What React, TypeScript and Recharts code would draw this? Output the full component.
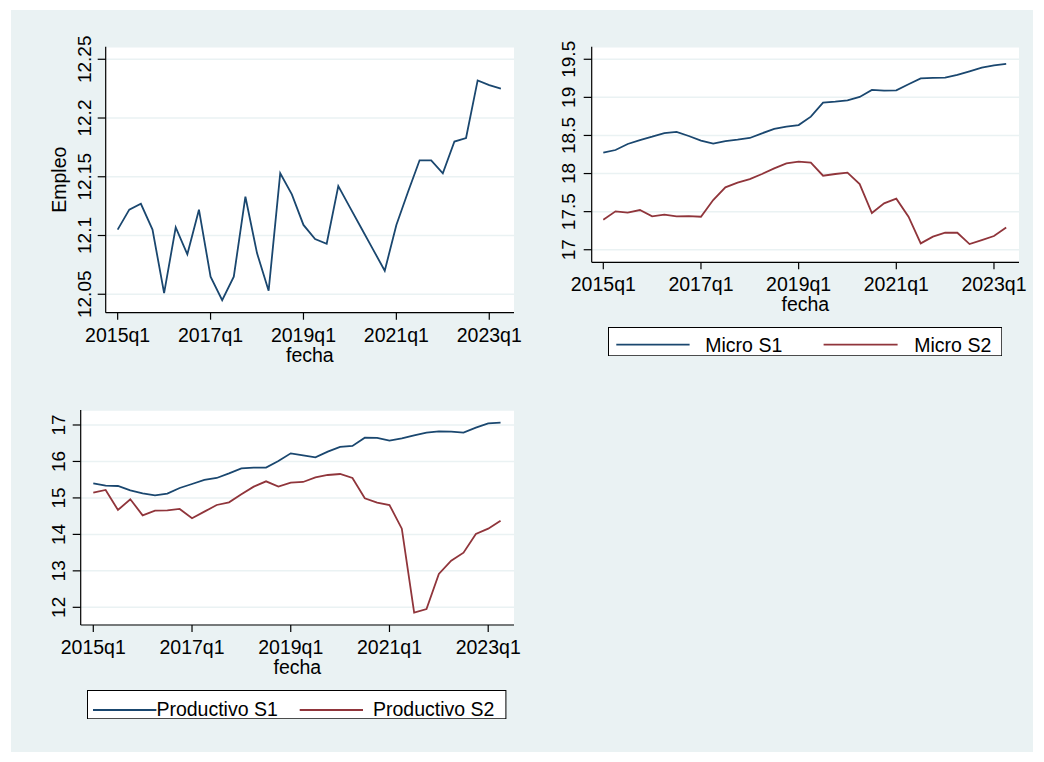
import React from 'react';
import { LineChart, Line, XAxis, YAxis, CartesianGrid, Legend } from 'recharts';

const quarters = [
  '2015q1', '2015q2', '2015q3', '2015q4',
  '2016q1', '2016q2', '2016q3', '2016q4',
  '2017q1', '2017q2', '2017q3', '2017q4',
  '2018q1', '2018q2', '2018q3', '2018q4',
  '2019q1', '2019q2', '2019q3', '2019q4',
  '2020q1', '2020q2', '2020q3', '2020q4',
  '2021q1', '2021q2', '2021q3', '2021q4',
  '2022q1', '2022q2', '2022q3', '2022q4',
  '2023q1', '2023q2',
];

const empleo = [
  12.105, 12.122, 12.127, 12.105, 12.051, 12.107, 12.084, 12.122,
  12.065, 12.045, 12.065, 12.133, 12.085, 12.053, 12.153, 12.135,
  12.109, 12.097, 12.093, 12.142, 12.124, 12.106, 12.088, 12.07,
  12.109, 12.137, 12.164, 12.164, 12.153, 12.18, 12.183, 12.232,
  12.228, 12.225,
];

const microS1 = [
  18.274, 18.309, 18.388, 18.44, 18.484, 18.532, 18.546, 18.493,
  18.432, 18.392, 18.427, 18.445, 18.467, 18.528, 18.585, 18.615,
  18.637, 18.747, 18.931, 18.944, 18.961, 19.005, 19.097, 19.088,
  19.093, 19.172, 19.25, 19.255, 19.259, 19.294, 19.342, 19.391,
  19.421, 19.439,
];

const microS2 = [
  17.394, 17.504, 17.486, 17.521, 17.438, 17.46, 17.438, 17.442,
  17.433, 17.652, 17.819, 17.88, 17.928, 17.994, 18.068, 18.134,
  18.156, 18.143, 17.972, 17.994, 18.011, 17.862, 17.482, 17.609,
  17.67, 17.433, 17.083, 17.171, 17.223, 17.223, 17.074, 17.127,
  17.18, 17.293,
];

const prodS1 = [
  15.4, 15.336, 15.327, 15.208, 15.126, 15.071, 15.117, 15.272,
  15.382, 15.492, 15.547, 15.675, 15.812, 15.83, 15.83, 16.013,
  16.223, 16.168, 16.113, 16.269, 16.397, 16.424, 16.653, 16.644,
  16.57, 16.634, 16.717, 16.79, 16.826, 16.817, 16.79, 16.927,
  17.046, 17.064,
];

const prodS2 = [
  15.144, 15.218, 14.669, 14.962, 14.523, 14.651, 14.66, 14.697,
  14.441, 14.623, 14.806, 14.879, 15.099, 15.309, 15.455, 15.309,
  15.419, 15.437, 15.565, 15.629, 15.656, 15.547, 14.989, 14.87,
  14.806, 14.157, 11.854, 11.954, 12.914, 13.28, 13.499, 14.011,
  14.157, 14.377,
];

const xTicks = [0, 8, 16, 24, 32];
const empleoTicks = [12.05, 12.1, 12.15, 12.2, 12.25];
const microTicks = [17, 17.5, 18, 18.5, 19, 19.5];
const prodTicks = [12, 13, 14, 15, 16, 17];

const NAVY = '#1a476f';
const MAROON = '#90353b';
const BG = '#eaf2f3';
const FONT = '"Liberation Sans", Arial, Helvetica, sans-serif';
const FS = 19.5;
const FSY = 19;

const data1 = quarters.map((q, i) => ({ i, q, empleo: empleo[i] }));
const data2 = quarters.map((q, i) => ({ i, q, s1: microS1[i], s2: microS2[i] }));
const data3 = quarters.map((q, i) => ({ i, q, s1: prodS1[i], s2: prodS2[i] }));

const axisLineStyle = { stroke: '#000', strokeWidth: 1.2 };

const XTick = (p: any) => (
  <text x={p.x} y={p.y + 22} textAnchor="middle" fontSize={FS} fontFamily={FONT} fill="#000">
    {quarters[p.payload.value]}
  </text>
);

const makeYTick = (off: number) => (p: any) => {
  const bx = p.x - off;
  return (
    <text
      x={bx}
      y={p.y}
      transform={`rotate(-90 ${bx} ${p.y})`}
      textAnchor="middle"
      fontSize={FSY}
      fontFamily={FONT}
      fill="#000"
    >
      {String(p.payload.value)}
    </text>
  );
};

const makeXLabel = (fallback: { x: number; y: number; width: number }) => (props: any) => {
  const vb = props && props.viewBox && typeof props.viewBox.x === 'number' ? props.viewBox : fallback;
  return (
    <text x={vb.x + vb.width / 2} y={vb.y + 49} textAnchor="middle" fontSize={FS} fontFamily={FONT} fill="#000">
      fecha
    </text>
  );
};

const makeYLabel = (fallback: { x: number; y: number; width: number; height: number }) => (props: any) => {
  const vb = props && props.viewBox && typeof props.viewBox.x === 'number' ? props.viewBox : fallback;
  const x = vb.x + vb.width - 39.2;
  const y = vb.y + vb.height / 2;
  return (
    <text x={x} y={y} transform={`rotate(-90 ${x} ${y})`} textAnchor="middle" fontSize={FS} fontFamily={FONT} fill="#000">
      Empleo
    </text>
  );
};

type LegendItem = { color: string; label: string; x1: number; x2: number; tx: number };

const LegendBox = ({ width, items, lineY, textY }: { width: number; items: LegendItem[]; lineY: number; textY: number }) => (
  <svg width={width} height={29.3} style={{ display: 'block' }}>
    <rect x={0.5} y={0.5} width={width - 1} height={28.3} fill="#fff" stroke="#000" strokeWidth={1} />
    {items.map((it) => (
      <g key={it.label}>
        <line x1={it.x1} x2={it.x2} y1={lineY} y2={lineY} stroke={it.color} strokeWidth={1.8} />
        <text x={it.tx} y={textY} fontSize={FS} fontFamily={FONT} fill="#000">
          {it.label}
        </text>
      </g>
    ))}
  </svg>
);

const microLegendItems: LegendItem[] = [
  { color: NAVY, label: 'Micro S1', x1: 8.3, x2: 81.6, tx: 97.3 },
  { color: MAROON, label: 'Micro S2', x1: 215.6, x2: 289.6, tx: 306.3 },
];

const prodLegendItems: LegendItem[] = [
  { color: NAVY, label: 'Productivo S1', x1: 6, x2: 69.4, tx: 69.4 },
  { color: MAROON, label: 'Productivo S2', x1: 212.7, x2: 276, tx: 286 },
];

export default function App() {
  return (
    <div style={{ position: 'relative', width: 1044, height: 762, background: '#fff', fontFamily: FONT, overflow: 'hidden' }}>
      <style>{'body{margin:0;}'}</style>
      <div style={{ position: 'absolute', left: 11, top: 10, width: 1022, height: 742, background: BG }} />

      {/* Empleo */}
      <div style={{ position: 'absolute', left: 20, top: 30 }}>
        <LineChart width={510} height={345} data={data1} margin={{ top: 16.7, right: 16, bottom: 22.3, left: 0 }}>
          <CartesianGrid vertical={false} stroke={BG} strokeWidth={1.5} fill="#fff" />
          <XAxis
            type="number"
            dataKey="i"
            domain={[-1.03, 34.13]}
            allowDataOverflow
            ticks={xTicks}
            tickSize={7}
            tickMargin={0}
            height={40}
            tick={XTick}
            axisLine={axisLineStyle}
            tickLine={axisLineStyle}
            label={makeXLabel({ x: 85.7, y: 282.7, width: 408.3 })}
          />
          <YAxis
            type="number"
            domain={[12.0343, 12.2607]}
            allowDataOverflow
            ticks={empleoTicks}
            width={85.7}
            tickSize={8}
            tickMargin={0}
            tick={makeYTick(7)}
            axisLine={axisLineStyle}
            tickLine={axisLineStyle}
            label={makeYLabel({ x: 0, y: 16.7, width: 85.7, height: 266 })}
          />
          <Line type="linear" dataKey="empleo" stroke={NAVY} strokeWidth={1.8} dot={false} isAnimationActive={false} />
        </LineChart>
      </div>

      {/* Micro */}
      <div style={{ position: 'absolute', left: 545, top: 30 }}>
        <LineChart width={485} height={340} data={data2} margin={{ top: 16.7, right: 11, bottom: 47.7, left: 0 }}>
          <CartesianGrid vertical={false} stroke={BG} strokeWidth={1.5} fill="#fff" />
          <XAxis
            type="number"
            dataKey="i"
            domain={[-0.95, 34.05]}
            allowDataOverflow
            ticks={xTicks}
            tickSize={7}
            tickMargin={0}
            height={60}
            tick={XTick}
            axisLine={axisLineStyle}
            tickLine={axisLineStyle}
            label={makeXLabel({ x: 46.7, y: 232.3, width: 427.3 })}
          />
          <YAxis
            type="number"
            domain={[16.835, 19.665]}
            allowDataOverflow
            ticks={microTicks}
            width={46.7}
            tickSize={8}
            tickMargin={0}
            tick={makeYTick(8.5)}
            axisLine={axisLineStyle}
            tickLine={axisLineStyle}
          />
          <Line type="linear" dataKey="s1" name="Micro S1" stroke={NAVY} strokeWidth={1.8} dot={false} isAnimationActive={false} />
          <Line type="linear" dataKey="s2" name="Micro S2" stroke={MAROON} strokeWidth={1.8} dot={false} isAnimationActive={false} />
          <Legend
            layout="horizontal"
            verticalAlign="middle"
            align="center"
            wrapperStyle={{ position: 'absolute', left: 62.7, top: 296.7, width: 394.3, height: 29.3, margin: 0, padding: 0 }}
            content={() => <LegendBox width={394.3} items={microLegendItems} lineY={17.6} textY={25} />}
          />
        </LineChart>
      </div>

      {/* Productivo */}
      <div style={{ position: 'absolute', left: 20, top: 395 }}>
        <LineChart width={510} height={340} data={data3} margin={{ top: 15, right: 16, bottom: 50, left: 0 }}>
          <CartesianGrid vertical={false} stroke={BG} strokeWidth={1.5} fill="#fff" />
          <XAxis
            type="number"
            dataKey="i"
            domain={[-1.02, 34.09]}
            allowDataOverflow
            ticks={xTicks}
            tickSize={7}
            tickMargin={0}
            height={60}
            tick={XTick}
            axisLine={axisLineStyle}
            tickLine={axisLineStyle}
            label={makeXLabel({ x: 60.7, y: 230, width: 433.3 })}
          />
          <YAxis
            type="number"
            domain={[11.515, 17.411]}
            allowDataOverflow
            ticks={prodTicks}
            width={60.7}
            tickSize={8}
            tickMargin={0}
            tick={makeYTick(7.7)}
            axisLine={axisLineStyle}
            tickLine={axisLineStyle}
          />
          <Line type="linear" dataKey="s1" name="Productivo S1" stroke={NAVY} strokeWidth={1.8} dot={false} isAnimationActive={false} />
          <Line type="linear" dataKey="s2" name="Productivo S2" stroke={MAROON} strokeWidth={1.8} dot={false} isAnimationActive={false} />
          <Legend
            layout="horizontal"
            verticalAlign="middle"
            align="center"
            wrapperStyle={{ position: 'absolute', left: 67.3, top: 295, width: 419.4, height: 29.3, margin: 0, padding: 0 }}
            content={() => <LegendBox width={419.4} items={prodLegendItems} lineY={20} textY={25.5} />}
          />
        </LineChart>
      </div>
    </div>
  );
}
